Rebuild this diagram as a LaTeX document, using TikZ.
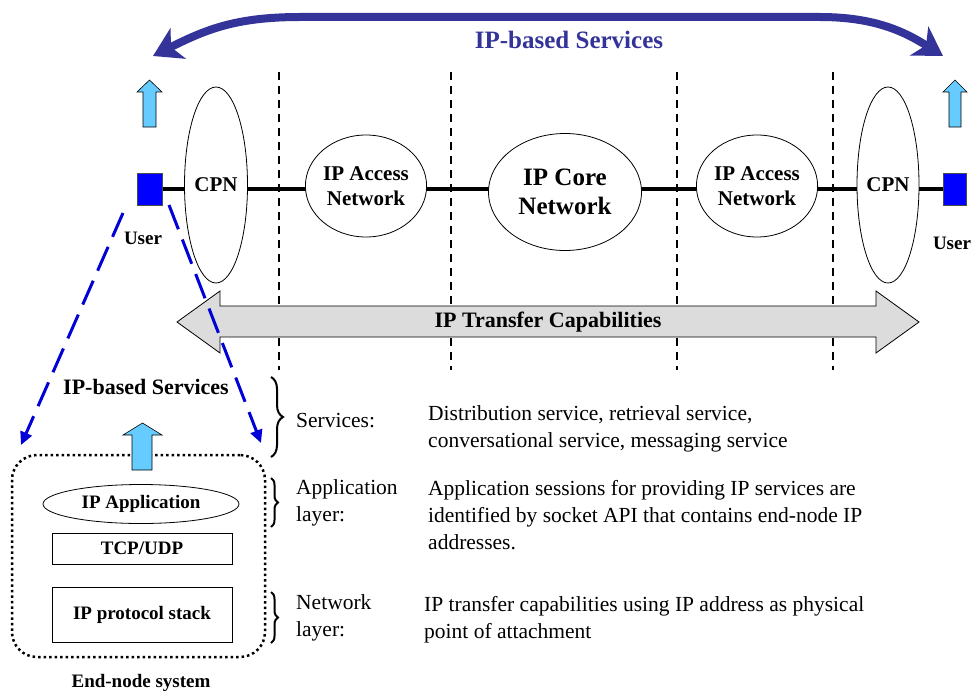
\documentclass[tikz,border=0pt]{standalone}
\usepackage{fontspec}
\setmainfont{Liberation Serif}
\usetikzlibrary{arrows.meta,decorations.pathreplacing,shapes.geometric,calc}
\definecolor{navy}{RGB}{51,51,153}
\definecolor{sky}{RGB}{102,204,255}
\definecolor{ublue}{RGB}{0,0,215}
\definecolor{lgray}{RGB}{220,220,220}
\pgfdeclarelayer{bg}
\pgfsetlayers{bg,main}
\begin{document}
\begin{tikzpicture}[x=1pt,y=-1pt,
  net/.style={ellipse, draw, fill=white, line width=0.8pt, inner sep=0pt, align=center,
    font=\bfseries\fontsize{21}{25}\selectfont},
  userbox/.style={draw=black!70, fill=blue, line width=0.6pt, minimum width=25pt, minimum height=32pt, inner sep=0pt},
  lbl/.style={font=\bfseries\fontsize{19}{22}\selectfont, inner sep=0pt},
  vdash/.style={line width=1.4pt, dash pattern=on 8pt off 6pt},
  bdash/.style={ublue, line width=3pt, dash pattern=on 26pt off 11pt, -{Triangle[length=13pt,width=12pt]}},
  skyarr/.style={fill=sky, draw=black, line width=0.6pt},
  stackbox/.style={draw, line width=0.8pt, inner sep=0pt, font=\bfseries\fontsize{19}{22}\selectfont},
  bracel/.style={decorate, decoration={brace, amplitude=#1}, line width=2pt},
  desc/.style={font=\fontsize{21.5}{27}\selectfont, align=left, anchor=west, inner sep=0pt}]
\useasboundingbox (0,0) rectangle (973,690);

% network nodes
\node[net, minimum width=63pt, minimum height=196pt] (cpnL) at (216,185) {CPN};
\node[net, minimum width=114pt, minimum height=102pt] (accL) at (366,186) {IP Access\\Network};
\node[net, minimum width=153pt, minimum height=117pt, font=\bfseries\fontsize{25}{29}\selectfont] (core) at (565,192) {IP Core\\Network};
\node[net, minimum width=113pt, minimum height=102pt] (accR) at (757,186) {IP Access\\Network};
\node[net, minimum width=62pt, minimum height=196pt] (cpnR) at (888,185) {CPN};
\node[userbox] (userL) at (150,189) {};
\node[userbox, minimum width=23pt] (userR) at (954.5,189) {};
\node[lbl] (userLt) at (143,238) {User};
\node[lbl] (userRt) at (952,243) {User};

\begin{pgfonlayer}{bg}
  \draw[line width=3.2pt] (userL.east) -- (userR.west);
  \draw[vdash] (279,72) -- (279,370);
  \draw[vdash] (451,72) -- (451,370);
  \draw[vdash] (677,72) -- (677,370);
  \draw[vdash] (833,72) -- (833,370);
\end{pgfonlayer}

% IP transfer capabilities arrow
\draw[fill=lgray, line width=0.8pt] (177,322) -- (220,291) -- (220,306) -- (876,306) -- (876,291)
  -- (919,322) -- (876,353) -- (876,337) -- (220,337) -- (220,353) -- cycle;
\node[font=\bfseries\fontsize{22}{26}\selectfont] (itc) at (548,322) {IP Transfer Capabilities};

% top services arrow
\coordinate (tL) at (153,56);
\coordinate (tR) at (943,56);
\draw[navy, line width=8pt, {Stealth[length=28pt,width=34pt,inset=8pt]}-{Stealth[length=28pt,width=34pt,inset=8pt]}]
  (tL) .. controls (205,30) and (235,17) .. (300,17) -- (820,17) .. controls (875,17) and (905,32) .. (tR);
\node[font=\bfseries\fontsize{25}{28}\selectfont, text=navy] (title) at (569,40) {IP-based Services};

% small up arrows
\draw[skyarr] (143,127) -- (143,92) -- (137,92) -- (149.5,80) -- (162,92) -- (156,92) -- (156,127) -- cycle;
\draw[skyarr] (949,127) -- (949,92) -- (943,92) -- (955,80) -- (967,92) -- (961,92) -- (961,127) -- cycle;

% end-node system
\node[draw, line width=2.5pt, dash pattern=on 2.5pt off 3pt, rounded corners=25pt,
  minimum width=253pt, minimum height=202pt] (ens) at (138.5,556) {};
\node[stackbox, ellipse, minimum width=196pt, minimum height=39pt] (app) at (141,504) {IP Application};
\node[stackbox, minimum width=180pt, minimum height=31pt] (tcp) at (142,548.5) {TCP/UDP};
\node[stackbox, minimum width=180pt, minimum height=55pt] (ipst) at (142,614.5) {IP protocol stack};
\node[font=\bfseries\fontsize{22}{26}\selectfont, inner sep=0pt] (ibs) at (146,387) {IP-based Services};
\node[lbl] (ens-t) at (141,683) {End-node system};
\draw[skyarr] (132,470) -- (132,435) -- (123,435) -- (142.5,423) -- (162,435) -- (152,435) -- (152,470) -- cycle;

% blue dashed zoom lines
\coordinate (dlS) at (123,213);
\coordinate (dlE) at (21,445);
\coordinate (drS) at (169,205);
\coordinate (drE) at (261,443);
\draw[bdash] (dlS) -- (dlE);
\draw[bdash] (drS) -- (drE);

% braces and descriptions
\draw[bracel=12pt] (271,377) -- (271,457);
\draw[bracel=7pt] (271,478) -- (271,527);
\draw[bracel=7pt] (271,592) -- (271,643);
\node[desc] (svc) at (296,421) {Services:};
\node[desc] (appl) at (296,502.5) {Application\\layer:};
\node[desc] (netl) at (296,617.5) {Network\\layer:};
\node[desc] (svcd) at (428,428.5) {Distribution service, retrieval service,\\conversational service, messaging service};
\node[desc] (appd) at (428,515.5) {Application sessions for providing IP services are\\identified by socket API that contains end-node IP\\addresses.};
\node[desc] (netd) at (424,620) {IP transfer capabilities using IP address as physical\\point of attachment};
\end{tikzpicture}
\end{document}
